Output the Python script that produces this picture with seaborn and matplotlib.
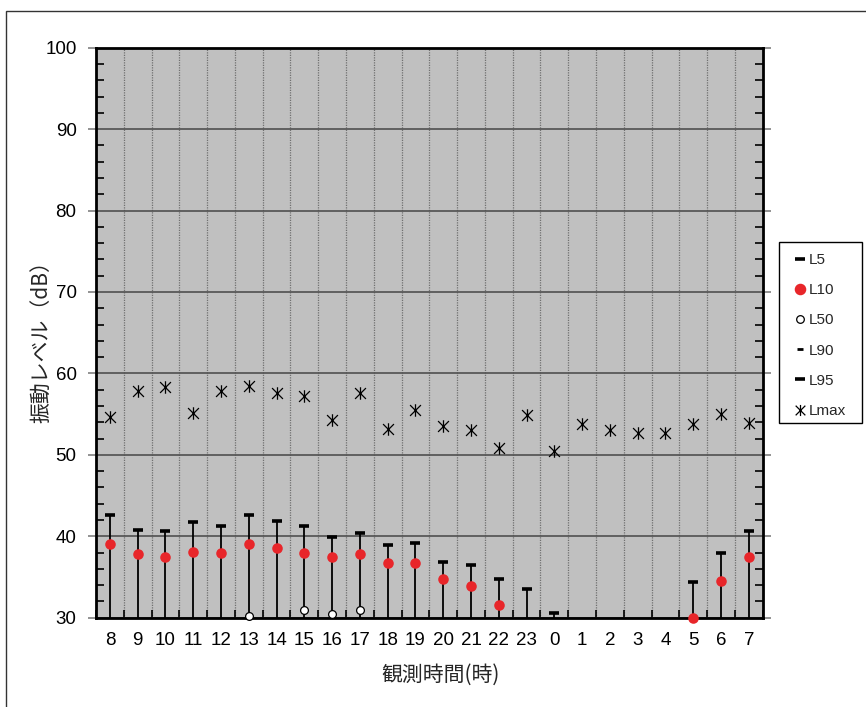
import numpy as np
import pandas as pd
import matplotlib
matplotlib.use('Agg')
import matplotlib.pyplot as plt
from matplotlib.lines import Line2D
from matplotlib.path import Path
from matplotlib.patches import Rectangle
import seaborn as sns

# observation hours, 8:00 through 7:00 next morning
hours = ['8', '9', '10', '11', '12', '13', '14', '15', '16', '17', '18', '19',
         '20', '21', '22', '23', '0', '1', '2', '3', '4', '5', '6', '7']
nan = np.nan
L5 = [42.6, 40.8, 40.6, 41.8, 41.3, 42.6, 41.9, 41.3, 39.9, 40.4, 38.9, 39.2,
      36.8, 36.5, 34.8, 33.5, 30.6, nan, nan, nan, nan, 34.4, 37.9, 40.6]
L10 = [39.1, 37.8, 37.4, 38.1, 37.9, 39.0, 38.6, 37.9, 37.4, 37.8, 36.7, 36.7,
       34.7, 33.9, 31.5, nan, nan, nan, nan, nan, nan, 30.0, 34.5, 37.4]
L50 = [nan, nan, nan, nan, nan, 30.2, nan, 30.9, 30.5, 30.9, nan, nan,
       nan, nan, nan, nan, nan, nan, nan, nan, nan, nan, nan, nan]
Lmax = [54.7, 57.9, 58.3, 55.1, 57.9, 58.4, 57.6, 57.2, 54.3, 57.6, 53.2, 55.5,
        53.6, 53.1, 50.9, 54.9, 50.5, 53.8, 53.1, 52.7, 52.7, 53.8, 55.0, 53.9]

df = pd.DataFrame({'hour': hours, 'L5': L5, 'L10': L10, 'L50': L50, 'Lmax': Lmax})

sns.set_theme(style='ticks')
plt.rcParams['font.family'] = ['Liberation Sans', 'Noto Sans CJK JP', 'DejaVu Sans']
jp = ['Noto Sans CJK JP', 'DejaVu Sans']

# excel-like star: X with a vertical bar
star = Path([(-1, -1), (1, 1), (-1, 1), (1, -1), (0, -1.15), (0, 1.15)],
            [Path.MOVETO, Path.LINETO, Path.MOVETO, Path.LINETO, Path.MOVETO, Path.LINETO])

fig = plt.figure(figsize=(8.66, 7.07), dpi=100)
ax = fig.add_axes([96/866, 1-617.7/707, 666.7/866, 570/707])
ax.set_facecolor('#c0c0c0')

red = '#e8262a'
x = np.arange(len(hours))

# sticks from L5 down to the bottom of the axis
ok = ~np.isnan(np.array(L5))
ax.vlines(x[ok], 30, np.array(L5)[ok], color='black', lw=1.3, zorder=3)
ax.plot(x, L5, ls='none', marker='_', color='black', ms=7, mew=2.6, zorder=4)

sns.stripplot(data=df, x='hour', y='L10', order=hours, jitter=False, ax=ax,
              color=red, size=7.6, linewidth=0, zorder=5, clip_on=False)
sns.stripplot(data=df, x='hour', y='L50', order=hours, jitter=False, ax=ax,
              color='white', edgecolor='black', linewidth=0.9, size=5.6, zorder=5,
              clip_on=False)
sns.stripplot(data=df, x='hour', y='Lmax', order=hours, jitter=False, ax=ax,
              color='black', edgecolor='black', linewidth=0.9, marker=star,
              size=9, zorder=5)

ax.set_xlim(-0.5, len(hours) - 0.5)
ax.set_ylim(30, 100)
ax.set_yticks(np.arange(30, 101, 10))
ax.set_yticks(np.arange(30, 101, 2), minor=True)
ax.set_xticks(x)
ax.set_xticklabels(hours)
ax.set_xticks(np.arange(-0.5, len(hours)), minor=True)

ax.grid(False)
ax.yaxis.grid(True, which='major', color='#505050', lw=1.2)
ax.xaxis.grid(True, which='minor', color='#707070', lw=0.9, ls=(0, (1, 1)))
ax.set_axisbelow(True)

ax.tick_params(axis='x', which='major', length=0, labelsize=13.5, pad=10, colors='black')
ax.tick_params(axis='x', which='minor', direction='in', length=6, width=1.2,
               color='black', bottom=True, top=False)
ax.tick_params(axis='y', which='major', direction='out', length=6, width=1.2,
               color='#808080', left=True, right=True, labelsize=13.5, pad=8,
               labelcolor='black')
ax.tick_params(axis='y', which='minor', direction='in', length=6, width=1.2,
               color='black', left=True, right=True)
for s in ax.spines.values():
    s.set_visible(True)
    s.set_color('black')
    s.set_linewidth(2)

ax.set_xlabel('観測時間(時)', fontsize=15, family=jp)
ax.set_ylabel('振動レベル（dB）', fontsize=15, family=jp)
ax.xaxis.set_label_coords(0.517, -0.08)
ax.yaxis.set_label_coords(-0.066, 0.493)

handles = [
    Line2D([], [], ls='none', marker='_', color='black', ms=7, mew=2.6),
    Line2D([], [], ls='none', marker='o', mfc=red, mec=red, ms=7.3),
    Line2D([], [], ls='none', marker='o', mfc='white', mec='black', ms=5.5, mew=0.9),
    Line2D([], [], ls='none', marker='_', color='black', ms=4.5, mew=2),
    Line2D([], [], ls='none', marker='_', color='black', ms=7, mew=2.6),
    Line2D([], [], ls='none', marker=star, color='black', ms=8, mew=0.9),
]
leg = fig.legend(handles, ['L5', 'L10', 'L50', 'L90', 'L95', 'Lmax'],
                 loc='upper left', bbox_to_anchor=(789/866, 1-253/707),
                 frameon=False, fontsize=11, handlelength=1.4, handletextpad=-0.1,
                 labelspacing=1.06, borderpad=0, borderaxespad=0)

# legend box drawn separately (uneven padding as in the original)
fig.add_artist(Rectangle((779/866, 1-423/707), 83/866, 181/707,
                         transform=fig.transFigure, fill=False,
                         edgecolor='black', lw=1))

# outer frame of the whole chart
fig.add_artist(Rectangle((6/866, -0.1), 2, 1.1 - 11/707, transform=fig.transFigure,
                         fill=False, edgecolor='#333333', lw=1))

fig.savefig('out.png', dpi=100)
